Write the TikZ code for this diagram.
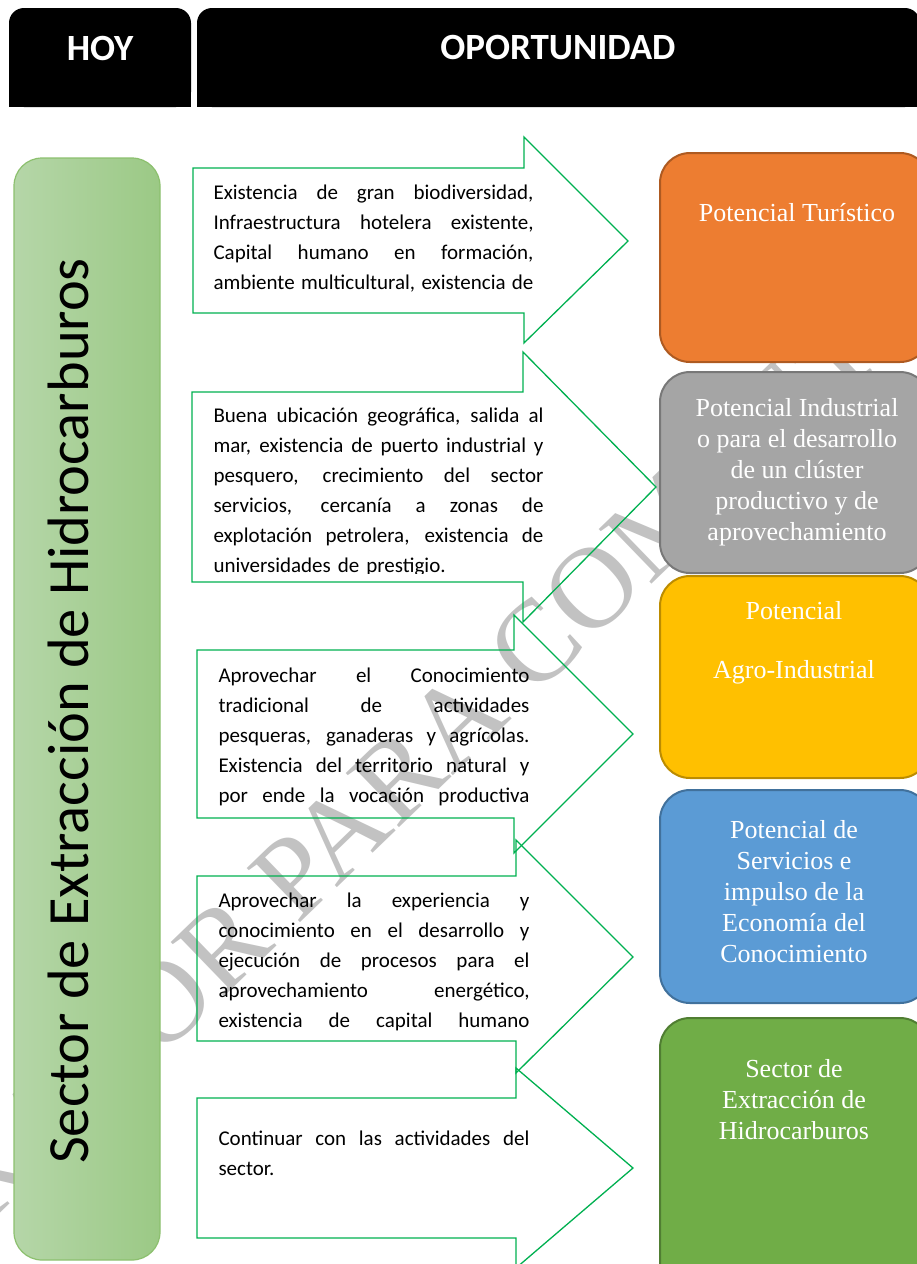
\documentclass[tikz,border=0pt]{standalone}
\usepackage{fontspec}
\setmainfont{Carlito}
\newfontfamily\serifbox{Liberation Serif}
\newfontfamily\markfont{Liberation Serif}

\definecolor{arrowgreen}{HTML}{00B050}
\definecolor{leftlight}{HTML}{B5D6A8}
\definecolor{leftdark}{HTML}{9BC985}
\definecolor{leftborder}{HTML}{8CC06E}
\definecolor{turfill}{HTML}{ED7D31}
\definecolor{turedge}{HTML}{AE5A21}
\definecolor{indfill}{HTML}{A5A5A5}
\definecolor{indedge}{HTML}{787878}
\definecolor{agrofill}{HTML}{FFC000}
\definecolor{agroedge}{HTML}{BC8C00}
\definecolor{servfill}{HTML}{5B9BD5}
\definecolor{servedge}{HTML}{41719C}
\definecolor{hidrofill}{HTML}{70AD47}
\definecolor{hidroedge}{HTML}{507E32}
\definecolor{wmgray}{HTML}{C2C2C2}

\newcommand{\jline}[1]{\hbox to \hsize{\spaceskip=.3em plus 3em minus .05em #1}\par}

\begin{document}
\begin{tikzpicture}[x=0.5pt,y=-0.5pt,line width=.5pt,
  headbox/.style={fill=black,rounded corners=7.5pt},
  headtext/.style={anchor=center,inner sep=0pt,text=white,font=\bfseries\fontsize{18.5}{22}\selectfont},
  arrowline/.style={draw=arrowgreen,line width=.65pt,line join=miter},
  arrowtext/.style={anchor=base west,inner sep=0pt,align=left,font=\fontsize{10.5}{15}\selectfont},
  optbox/.style={line width=1pt,rounded corners=15pt},
  optlabel/.style={anchor=center,inner sep=0pt,align=center,text=white,font=\serifbox\fontsize{13}{15.5}\selectfont}]
\path[use as bounding box] (0,0) rectangle (916,1264);
% watermark
\node[rotate=44,inner sep=0pt,text=wmgray,font=\markfont\fontsize{58}{60}\selectfont] (draft) at (445,731) {BORRADOR PARA COMENTARIOS};
% headers
\fill[headbox] (9,8) rectangle (191,107);
\fill (9,60) rectangle (191,107);
\fill[headbox] (197,8) rectangle (920,107);
\fill (197,60) rectangle (920,107);
\node[headtext] (hoy) at (100,48) {HOY};
\node[headtext] (oport) at (558,48) {OPORTUNIDAD};
% today
\draw[draw=leftborder,line width=.6pt,left color=leftlight,right color=leftdark,rounded corners=14pt] (14,158) rectangle (160,1260);
\node[rotate=90,anchor=base,inner sep=0pt,font=\fontsize{29.2}{35}\selectfont] (sectorhoy) at (88,711) {Sector de Extracción de Hidrocarburos};
% arrows
\draw[arrowline] (193,168) -- (524,168) -- (524,137) -- (628,241) -- (524,343) -- (524,313) -- (193,313) -- cycle;
\draw[arrowline] (192,392) -- (523,392) -- (523,352) -- (656,487) -- (523,622) -- (523,582) -- (192,582) -- cycle;
\draw[arrowline] (197,650) -- (514,650) -- (514,615) -- (633,734) -- (514,853) -- (514,818) -- (197,818) -- cycle;
\draw[arrowline] (197,876) -- (516,876) -- (516,840) -- (633,957) -- (516,1073) -- (516,1041) -- (197,1041) -- cycle;
\draw[arrowline] (197,1098) -- (516,1098) -- (516,1068) -- (633,1168) -- (516,1268) -- (516,1238) -- (197,1238) -- cycle;
\node[arrowtext,text width=160pt] (txtbio) at (213,199) {\jline{Existencia de gran biodiversidad,}\jline{Infraestructura hotelera existente,}\jline{Capital humano en formación,}\jline{ambiente multicultural, existencia de}};
\begin{scope}
\clip (200,380) rectangle (560,573);
\node[arrowtext,text width=165pt] (txtgeo) at (213,422) {\jline{Buena ubicación geográfica, salida al}\jline{mar, existencia de puerto industrial y}\jline{pesquero, crecimiento del sector}\jline{servicios, cercanía a zonas de}\jline{explotación petrolera, existencia de}universidades de prestigio.};
\end{scope}
\node[arrowtext,text width=155.5pt] (txtagro) at (218,682) {\jline{Aprovechar el Conocimiento}\jline{tradicional de actividades}\jline{pesqueras, ganaderas y agrícolas.}\jline{Existencia del territorio natural y}\jline{por ende la vocación productiva}};
\node[arrowtext,text width=155.5pt] (txtserv) at (218,907) {\jline{Aprovechar la experiencia y}\jline{conocimiento en el desarrollo y}\jline{ejecución de procesos para el}\jline{aprovechamiento energético,}\jline{existencia de capital humano}};
\node[arrowtext,text width=155.5pt] (txtsector) at (218,1145) {\jline{Continuar con las actividades del}sector.};
% opportunities
\draw[optbox,fill=turfill,draw=turedge] (660,153) rectangle (930,362);
\draw[optbox,fill=indfill,draw=indedge] (660,372) rectangle (930,573);
\draw[optbox,fill=agrofill,draw=agroedge] (660,576) rectangle (930,778);
\draw[optbox,fill=servfill,draw=servedge] (660,790) rectangle (930,1003);
\draw[optbox,fill=hidrofill,draw=hidroedge] (660,1018) rectangle (930,1300);
\node[optlabel] (turistico) at (797,213) {Potencial Turístico};
\node[optlabel] (industrial) at (797,472) {Potencial Industrial\\o para el desarrollo\\de un clúster\\productivo y de\\aprovechamiento};
\node[optlabel] (agro) at (794,643) {Potencial\\[14pt]Agro-Industrial};
\node[optlabel] (servicios) at (794,892) {Potencial de\\Servicios e\\impulso de la\\Economía del\\Conocimiento};
\node[optlabel] (hidro) at (794,1100) {Sector de\\Extracción de\\Hidrocarburos};
\end{tikzpicture}
\end{document}
